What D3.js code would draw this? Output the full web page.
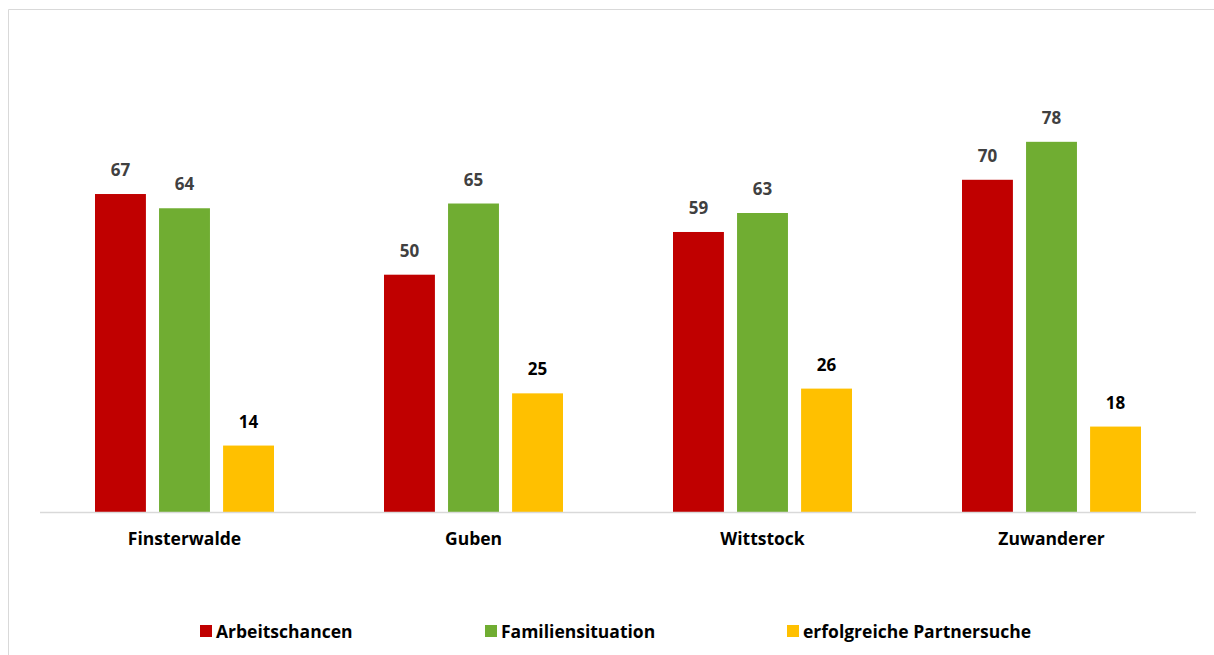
<!DOCTYPE html>
<html>
<head>
<meta charset="utf-8">
<script src="https://cdn.jsdelivr.net/npm/d3@7"></script>
<style>
  body { margin: 0; background: #fff; }
  svg { display: block; font-family: "Open Sans", Lato, sans-serif; }
</style>
</head>
<body>
<svg id="chart" width="1214" height="655"></svg>
<script>
const categories = ['Finsterwalde', 'Guben', 'Wittstock', 'Zuwanderer']
const seriesNames = ['Arbeitschancen', 'Familiensituation', 'erfolgreiche Partnersuche']
const arbeit = [67, 50, 59, 70]
const familie = [64, 65, 63, 78]
const partner = [14, 25, 26, 18]
const colors = ['#c00000', '#70ad32', '#ffc000']
const labelColors = ['#404040', '#404040', '#000000']

const series = [arbeit, familie, partner]
const svg = d3.select('#chart')

// chart frame
svg.append('path')
    .attr('d', 'M8.5,655 L8.5,9.5 L1214,9.5')
    .attr('fill', 'none')
    .attr('stroke', '#d9d9d9')
    .attr('stroke-width', 1)

const baseY = 512
const x = d3.scaleBand()
    .domain(categories)
    .range([40, 1196])

const groupW = 179
const xInner = d3.scaleBand()
    .domain(d3.range(series.length))
    .range([0, groupW])
    .paddingInner(0.205)
    .paddingOuter(0)

const y = d3.scaleLinear()
    .domain([0, 100])
    .range([baseY, baseY - 474.6])

const groups = svg.selectAll('g.group')
    .data(categories)
    .enter()
    .append('g')
    .attr('class', 'group')
    .attr('transform', d => `translate(${x(d) + x.bandwidth() / 2 - groupW / 2}, 0)`)

series.forEach((values, s) => {
    groups.append('rect')
        .attr('x', xInner(s))
        .attr('y', (d, i) => y(values[i]))
        .attr('width', xInner.bandwidth())
        .attr('height', (d, i) => baseY - y(values[i]))
        .attr('fill', colors[s])

    groups.append('text')
        .attr('x', xInner(s) + xInner.bandwidth() / 2)
        .attr('y', (d, i) => y(values[i]) - 18)
        .attr('text-anchor', 'middle')
        .attr('font-size', '17px')
        .attr('font-weight', 'bold')
        .attr('fill', labelColors[s])
        .text((d, i) => values[i])
})

// baseline
svg.append('line')
    .attr('x1', 40)
    .attr('x2', 1196)
    .attr('y1', baseY + 0.5)
    .attr('y2', baseY + 0.5)
    .attr('stroke', '#d9d9d9')
    .attr('stroke-width', 1.5)

const xAxis = d3.axisBottom(x).tickSize(0).tickPadding(21)
svg.append('g')
    .attr('transform', `translate(0, ${baseY})`)
    .call(xAxis)
    .call(g => g.select('.domain').remove())
    .selectAll('text')
    .attr('font-family', '"Open Sans", Lato, sans-serif')
    .attr('font-size', '17.5px')
    .attr('font-weight', 'bold')
    .attr('fill', '#000')

// L E G E N D
const legendX = [200, 485, 787]
const legend = svg.append('g')
    .selectAll('g')
    .data(seriesNames)
    .enter()
    .append('g')
    .attr('transform', (d, i) => `translate(${legendX[i]}, 625)`)

legend.append('rect')
    .attr('width', 12)
    .attr('height', 12)
    .attr('fill', (d, i) => colors[i])

legend.append('text')
    .attr('x', 16)
    .attr('y', 13)
    .attr('font-size', '17.5px')
    .attr('font-weight', 'bold')
    .attr('fill', '#000')
    .text(d => d)
</script>
</body>
</html>
